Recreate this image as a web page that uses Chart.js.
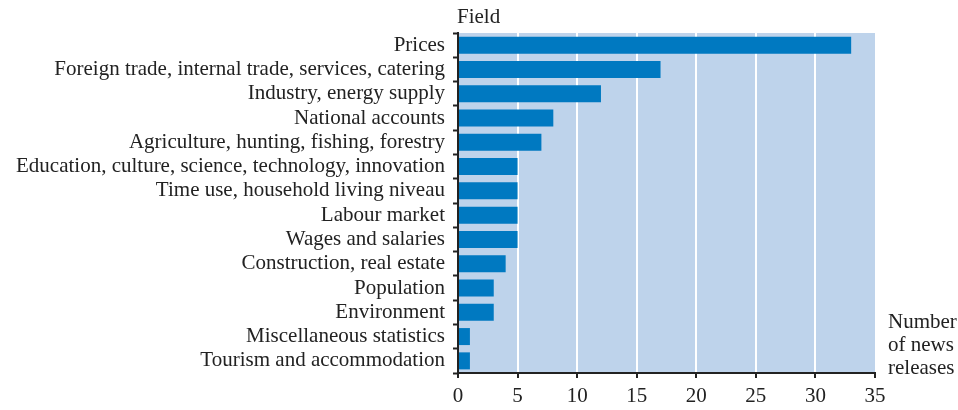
<!DOCTYPE html>
<html lang="en">
<head>
    <meta charset="UTF-8">
    <title>News releases by field</title>
    <script src="https://cdn.jsdelivr.net/npm/chart.js"></script>
    <style>
        body {
            margin: 0;
            background-color: #fff;
        }

        .chart-container {
            width: 958px;
            height: 410px;
        }
    </style>
</head>
<body>

    <div class="chart-container">
        <canvas id="fieldChart" width="958" height="410"></canvas>
    </div>

    <script>
        // Datos del gráfico
        const fields = [
            'Prices',
            'Foreign trade, internal trade, services, catering',
            'Industry, energy supply',
            'National accounts',
            'Agriculture, hunting, fishing, forestry',
            'Education, culture, science, technology, innovation',
            'Time use, household living niveau',
            'Labour market',
            'Wages and salaries',
            'Construction, real estate',
            'Population',
            'Environment',
            'Miscellaneous statistics',
            'Tourism and accommodation'
        ];
        const releases = [33, 17, 12, 8, 7, 5, 5, 5, 5, 4, 3, 3, 1, 1];
        const xTicks = [0, 5, 10, 15, 20, 25, 30, 35];

        const serif = '"Liberation Serif", "Times New Roman", serif';
        const textColor = '#222';

        // Fondo del área del gráfico y textos de los ejes
        const decorPlugin = {
            id: 'decor',
            beforeDraw(chart) {
                const { ctx, chartArea } = chart;
                ctx.save();
                ctx.fillStyle = '#bed3eb';
                ctx.fillRect(chartArea.left, chartArea.top,
                    chartArea.right - chartArea.left, chartArea.bottom - chartArea.top);
                ctx.restore();
            },
            afterDraw(chart) {
                const { ctx, chartArea } = chart;
                ctx.save();
                ctx.fillStyle = textColor;
                ctx.font = '21px ' + serif;
                ctx.textBaseline = 'alphabetic';
                ctx.textAlign = 'left';
                ctx.fillText('Field', chartArea.left - 1, 23);
                const x = chartArea.right + 13;
                ctx.fillText('Number', x, 328);
                ctx.fillText('of news', x, 351);
                ctx.fillText('releases', x, 374);
                ctx.restore();
            }
        };

        const ctx = document.getElementById('fieldChart').getContext('2d');
        const fieldChart = new Chart(ctx, {
            type: 'bar',
            data: {
                labels: fields,
                datasets: [{
                    data: releases,
                    backgroundColor: '#0079c1',
                    borderWidth: 0,
                    barPercentage: 0.7,
                    categoryPercentage: 1.0
                }]
            },
            options: {
                indexAxis: 'y',
                responsive: false,
                animation: false,
                layout: {
                    padding: { top: 33, right: 83, left: 0, bottom: 0 }
                },
                plugins: {
                    legend: { display: false },
                    tooltip: { enabled: false }
                },
                scales: {
                    x: {
                        min: 0,
                        max: 35,
                        afterBuildTicks(scale) {
                            scale.ticks = xTicks.map(v => ({ value: v }));
                        },
                        afterFit(scale) {
                            scale.height = 37;
                        },
                        grid: {
                            color(c) {
                                const v = c.tick ? c.tick.value : 0;
                                return (v === 0 || v === 35) ? 'rgba(0,0,0,0)' : '#ffffff';
                            },
                            lineWidth: 2,
                            tickColor: textColor,
                            tickLength: 5,
                            tickWidth: 2
                        },
                        border: { display: true, color: textColor, width: 2 },
                        ticks: {
                            color: textColor,
                            padding: 6,
                            maxRotation: 0,
                            font: { family: serif, size: 21 }
                        }
                    },
                    y: {
                        afterFit(scale) {
                            scale.width = 458;
                        },
                        grid: {
                            drawOnChartArea: false,
                            offset: true,
                            color: textColor,
                            tickLength: 5,
                            tickWidth: 2
                        },
                        border: { display: true, color: textColor, width: 2 },
                        ticks: {
                            color: textColor,
                            padding: 8,
                            autoSkip: false,
                            font: { family: serif, size: 21 }
                        }
                    }
                }
            },
            plugins: [decorPlugin]
        });
    </script>

</body>
</html>
